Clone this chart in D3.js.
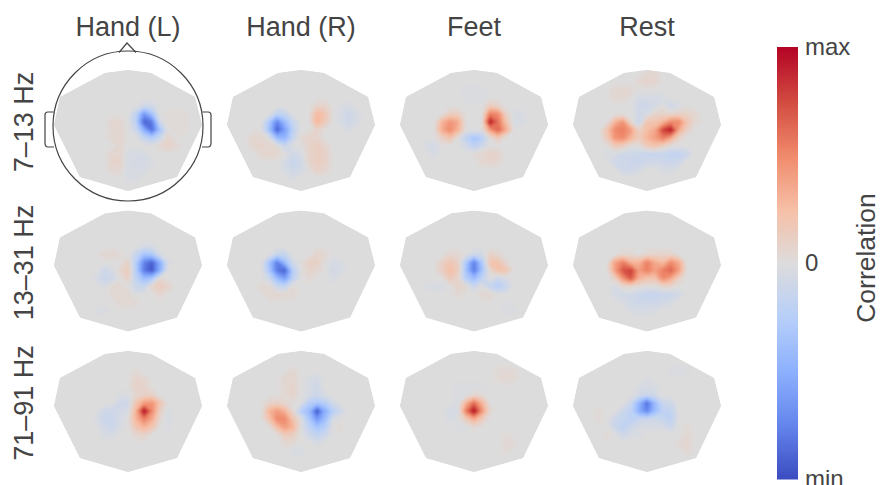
<!DOCTYPE html>
<html>
<head>
<meta charset="utf-8">
<script src="https://d3js.org/d3.v7.min.js"></script>
<style>
html, body { margin: 0; padding: 0; background: #fff; overflow: hidden; }
text { font-family: "Liberation Sans", Arial, sans-serif; fill: #444; }
</style>
</head>
<body>
<div id="chart"></div>
<script>
let conditions = ["Hand (L)", "Hand (R)", "Feet", "Rest"];
let bands = ["7\u201313 Hz", "13\u201331 Hz", "71\u201391 Hz"];
let barLabels = ["min", "0", "max"];
let barValues = [-1, 0, 1];
let coolwarm = ["#3b4cc0", "#6485ec", "#8db0fe", "#b7cff9", "#dddcdc", "#f6bfa6", "#f08a6c", "#d24b40", "#b40426"];

// correlation, [column, row, value] on a 21 x 17 sensor grid, everything else is 0
let handL7 = [[12,5,-.1],[13,5,-.08],[11,6,-.2],[12,6,-.65],[13,6,-.35],[11,7,-.22],[12,7,-.92],[13,7,-.8],[14,7,-.08],[11,8,-.12],[12,8,-.5],[13,8,-.85],[14,8,-.35],[12,9,-.15],[13,9,-.25],[14,9,-.12],
    [8,7,.06],[9,7,.06],[8,8,.05],[9,8,.05],[8,9,.05],[9,9,.07],[9,10,.05],[8,11,.06],[9,11,.06],[8,12,.08],[9,12,.08],[8,13,.05],[9,13,.05],[15,9,.08],[15,10,.08],[14,10,.05],[16,10,.05],
    [10,11,-.05],[11,11,-.05],[12,11,-.05],[10,12,-.05],[11,12,-.06],[12,12,-.06],[13,12,-.04],[10,13,-.05],[11,13,-.05],[12,13,-.05],[10,14,-.04],[11,14,-.04],
    [15,6,.03],[16,6,.03],[17,6,.03],[15,7,.03],[16,7,.03],[17,7,.03],[16,8,.03],[17,8,.03]];
let handR7 = [[7,6,-.2],[8,6,-.15],[6,7,-.3],[7,7,-.75],[8,7,-.4],[9,7,-.15],[6,8,-.35],[7,8,-.92],[8,8,-.6],[9,8,-.2],[7,9,-.4],[8,9,-.45],[9,9,-.15],[8,10,-.12],
    [12,5,.08],[13,5,.08],[12,6,.28],[13,6,.2],[12,7,.3],[13,7,.15],[12,8,.08],[10,9,.05],[11,9,.08],[12,9,.08],[11,10,.08],[12,10,.12],[13,10,.07],[11,11,.08],[12,11,.12],[13,11,.1],[11,12,.08],[12,12,.12],[13,12,.1],[12,13,.1],[13,13,.06],
    [4,9,.08],[5,9,.06],[4,10,.05],[5,10,.08],[6,10,.06],[7,10,.04],[5,11,.05],[6,11,.08],[7,11,.06],
    [9,11,-.08],[10,11,-.05],[8,12,-.06],[9,12,-.15],[10,12,-.1],[8,13,-.05],[9,13,-.1],[10,13,-.06],[9,14,-.05],
    [15,5,-.03],[16,5,-.05],[15,6,-.05],[16,6,-.1],[17,6,-.05],[15,7,-.05],[16,7,-.1],[17,7,-.05],[16,8,-.05]];
let feet7 = [[12,5,.15],[13,5,.08],[12,6,.55],[13,6,.5],[14,6,.1],[7,6,.12],[8,6,.12],[6,7,.3],[7,7,.45],[8,7,.35],[12,7,.95],[13,7,.6],[14,7,.2],[6,8,.35],[7,8,.5],[8,8,.3],[12,8,.4],[13,8,.65],[14,8,.35],
    [6,9,.1],[7,9,.2],[9,9,-.2],[10,9,-.35],[11,9,-.25],[13,9,.15],[9,10,-.08],[10,10,-.2],[11,10,-.1],[10,11,.03],[11,11,.06],[12,11,.1],[13,11,.08],[11,12,.05],[12,12,.07],[13,12,.05],
    [5,10,-.08],[4,10,-.04],[5,11,-.05],[15,6,-.04],[16,6,-.05],[15,7,-.04],[16,7,-.04],[9,3,-.03],[10,3,-.03],[11,3,-.03],[9,4,-.03],[10,4,-.03],[11,4,-.03]];
let rest7 = [[10,1,.05],[11,1,.05],[9,2,.05],[10,2,.08],[11,2,.06],[6,3,.05],[7,3,.06],[8,3,.05],[6,4,.05],[7,4,.05],[9,4,-.06],[10,4,-.06],[11,4,-.06],[12,4,-.05],[9,5,-.1],[10,5,-.1],[11,5,-.06],[13,5,-.1],[14,5,-.04],[9,6,-.08],[10,6,-.06],[11,6,.08],[12,6,.08],[13,6,.06],[14,6,.1],[15,6,.1],[16,6,.05],
    [6,7,.3],[7,7,.45],[8,7,.05],[9,7,-.15],[10,7,.2],[11,7,.2],[12,7,.3],[13,7,.5],[14,7,.5],[15,7,.2],[16,7,.05],
    [5,8,.2],[6,8,.5],[7,8,.55],[8,8,.4],[9,8,.1],[10,8,.25],[11,8,.35],[12,8,.78],[13,8,.95],[14,8,.35],[15,8,.1],[5,9,.15],[6,9,.45],[7,9,.5],[8,9,.3],[9,9,.15],[10,9,.3],[11,9,.4],[12,9,.55],[13,9,.35],[14,9,.08],
    [6,10,.15],[7,10,.12],[10,10,.15],[11,10,.2],[12,10,.1],[5,11,-.04],[6,11,-.05],[7,11,-.1],[8,11,-.1],[9,11,-.12],[10,11,-.15],[11,11,-.15],[12,11,-.15],[13,11,-.18],[14,11,-.18],[15,11,-.12],
    [6,12,-.1],[7,12,-.1],[8,12,-.12],[9,12,-.12],[10,12,-.1],[11,12,-.08],[12,12,-.1],[13,12,-.12],[14,12,-.1],[7,13,-.1],[8,13,-.1],[9,13,-.06],[12,13,-.04],[13,13,-.05]];
let handL13 = [[12,5,-.05],[13,5,-.05],[11,6,-.15],[12,6,-.35],[13,6,-.3],[14,6,-.05],[7,6,.05],[8,6,.06],[9,6,.03],[11,7,-.25],[12,7,-.75],[13,7,-.92],[14,7,-.5],[15,7,-.05],[10,7,.1],[10,8,.15],[9,8,.06],[8,8,-.05],[7,8,-.1],[11,8,-.25],[12,8,-.8],[13,8,-.95],[14,8,-.5],
    [6,9,-.05],[7,9,-.12],[8,9,-.1],[10,9,.12],[11,9,-.2],[12,9,-.4],[13,9,-.3],[14,9,.05],[7,10,-.05],[8,10,.05],[9,10,.05],[11,10,-.12],[12,10,-.15],[13,10,.08],[14,10,.15],[15,10,.08],[8,11,.04],[9,11,.05],[10,11,.05],[11,11,-.03],[14,11,.05],[9,12,.05],[10,12,.05],[11,12,.04],[7,13,-.05],[6,13,-.03]];
let handR13 = [[7,6,-.15],[8,6,-.15],[12,6,.08],[13,6,.05],[6,7,-.35],[7,7,-.78],[8,7,-.4],[9,7,-.08],[11,7,.1],[12,7,.1],[14,7,-.06],[15,7,-.04],[6,8,-.3],[7,8,-.8],[8,8,-.92],[9,8,-.25],[11,8,.08],[12,8,.05],[14,8,-.08],[15,8,-.05],
    [6,9,-.1],[7,9,-.4],[8,9,-.6],[9,9,-.2],[11,9,.04],[14,9,-.05],[5,10,.04],[6,10,.05],[7,10,-.12],[8,10,-.15],[9,10,.03],[6,11,.05],[7,11,.06],[8,11,.05],[9,11,.04]];
let feet13 = [[7,6,.06],[8,6,.05],[10,6,-.1],[11,6,-.08],[12,6,.1],[13,6,.05],[6,7,.1],[7,7,.2],[8,7,.1],[9,7,-.3],[10,7,-.78],[11,7,-.3],[12,7,.2],[13,7,.22],[14,7,.05],[6,8,.12],[7,8,.25],[8,8,.15],[9,8,-.35],[10,8,-.8],[11,8,-.35],[12,8,.05],[13,8,.22],[14,8,.2],
    [7,9,.15],[8,9,.08],[9,9,-.25],[10,9,-.4],[11,9,-.2],[13,9,-.12],[14,9,-.05],[4,10,-.03],[5,10,-.05],[6,10,-.05],[8,10,.08],[9,10,.05],[10,10,-.12],[12,10,-.15],[13,10,-.25],[14,10,-.15],[8,11,.04],[11,11,.05],[12,11,.06],[14,13,-.03],[15,13,-.04],[14,12,-.03]];
let rest13 = [[7,6,.05],[8,6,.05],[10,6,.06],[11,6,.08],[12,6,.08],[13,6,.08],[6,7,.4],[7,7,.55],[8,7,.3],[9,7,.3],[10,7,.55],[11,7,.35],[12,7,.25],[13,7,.5],[14,7,.35],[6,8,.4],[7,8,.72],[8,8,.8],[9,8,.4],[10,8,.55],[11,8,.4],[12,8,.55],[13,8,.65],[14,8,.4],
    [6,9,.1],[7,9,.45],[8,9,.7],[9,9,.3],[10,9,.2],[11,9,.2],[12,9,.5],[13,9,.35],[14,9,.1],[6,10,-.05],[7,10,.05],[8,10,.05],[9,10,.02],[12,10,.05],[13,10,.06],
    [6,11,-.06],[7,11,-.08],[8,11,-.08],[9,11,-.12],[10,11,-.15],[11,11,-.15],[12,11,-.12],[13,11,-.12],[14,11,-.08],[7,12,-.04],[8,12,-.08],[9,12,-.1],[10,12,-.1],[11,12,-.1],[12,12,-.08],[13,12,-.05],[8,13,-.05],[9,13,-.05],[10,13,-.05],[11,13,-.04]];
let handL71 = [[11,3,.03],[11,4,.08],[12,4,.06],[11,5,.1],[12,5,.08],[11,6,.06],[12,6,.1],[13,6,.1],[9,6,-.03],[10,6,-.03],[9,7,-.1],[10,7,-.1],[11,7,.2],[12,7,.4],[13,7,.45],[14,7,.2],[7,8,-.1],[8,8,-.1],[9,8,-.07],[10,8,-.05],[11,8,.3],[12,8,1],[13,8,.5],[14,8,.1],[15,8,-.04],
    [6,9,-.04],[7,9,-.12],[8,9,-.12],[9,9,-.05],[11,9,.3],[12,9,.55],[13,9,.35],[14,9,.05],[15,9,-.04],[7,10,-.08],[8,10,-.12],[9,10,-.04],[11,10,.2],[12,10,.3],[13,10,.2],[15,10,-.03],[7,11,-.04],[8,11,-.06],[11,11,.05],[12,11,.08]];
let handR71 = [[9,3,.05],[8,4,.06],[9,4,.06],[12,4,-.08],[11,4,-.04],[8,5,.05],[9,5,.08],[11,5,-.05],[12,5,-.1],[9,6,.08],[8,6,.04],[11,6,-.05],[12,6,-.1],[13,6,-.04],[6,7,.08],[7,7,.1],[8,7,.06],[11,7,-.25],[12,7,-.3],[13,7,-.25],[14,7,-.08],[6,8,.3],[7,8,.42],[8,8,.3],[9,8,.05],[10,8,-.25],[11,8,-.4],[12,8,-.98],[13,8,-.5],[14,8,-.25],[15,8,-.1],
    [6,9,.2],[7,9,.5],[8,9,.5],[9,9,.2],[11,9,-.3],[12,9,-.65],[13,9,-.4],[14,9,-.05],[7,10,.25],[8,10,.42],[9,10,.3],[11,10,-.2],[12,10,-.35],[13,10,-.25],[15,10,.04],[8,11,.15],[9,11,.12],[11,11,-.1],[12,11,-.18],[13,11,-.12],[8,12,.04],[9,12,.04],[12,12,-.05],[9,13,-.05],[10,13,-.05]];
let feet71 = [[13,3,.03],[14,3,.04],[15,3,.03],[13,4,.03],[14,4,.05],[15,4,.03],[8,5,-.03],[9,5,-.03],[10,5,-.03],[11,5,-.03],[8,6,-.03],[9,6,-.03],[10,6,.05],[11,6,.03],[8,7,-.03],[9,7,.3],[10,7,.62],[11,7,.3],[7,8,-.06],[8,8,-.05],[9,8,.55],[10,8,1],[11,8,.45],[12,8,.05],[7,9,-.05],[9,9,.15],[10,9,.35],[11,9,.15],[8,10,-.03],[9,10,-.03],[10,10,.04],[14,11,.03],[14,12,.04],[15,12,.03],[14,13,.03]];
let rest71 = [[14,3,-.05],[13,3,-.03],[15,3,-.03],[10,4,-.03],[9,5,-.04],[10,5,-.05],[11,5,-.04],[9,6,-.08],[10,6,-.12],[11,6,-.08],[8,7,-.12],[9,7,-.45],[10,7,-.85],[11,7,-.4],[12,7,-.12],[13,7,-.1],[7,8,-.12],[8,8,-.2],[9,8,-.5],[10,8,-.75],[11,8,-.4],[12,8,-.2],[13,8,-.18],
    [6,9,-.12],[7,9,-.15],[8,9,-.22],[9,9,-.15],[10,9,-.1],[11,9,-.1],[12,9,-.15],[13,9,-.2],[6,10,-.12],[7,10,-.2],[8,10,-.1],[9,10,-.05],[10,10,-.04],[11,10,-.04],[12,10,-.05],[13,10,-.12],[7,11,-.1],[8,11,-.05],[9,11,-.03],[15,10,.03],[15,11,.05],[14,12,.03],[15,12,.07],[15,13,.05],[4,8,.03],[4,9,.03],[5,11,.03]];

let panels = [
    [handL7, handR7, feet7, rest7],
    [handL13, handR13, feet13, rest13],
    [handL71, handR71, feet71, rest71]
];

// outline of the interpolated area, same for every panel (px from panel centre / top)
let outline = [[0,0],[23,3],[67,27],[74,55],[49,107],[0,121],[-48,107],[-74,55],[-68,27],[-23,3]];

let width = 881, height = 485;
let nx = 21, ny = 17;

let svg = d3.select("#chart").append("svg")
    .attr("width", width)
    .attr("height", height);

let xPanel = d3.scalePoint().domain(conditions).range([128, 647]);
let yPanel = d3.scalePoint().domain(bands).range([70, 351]);

let color = d3.scaleLinear()
    .domain(d3.range(coolwarm.length).map(function (i) { return -1 + i * 0.25; }))
    .range(coolwarm);

let defs = svg.append("defs");
defs.append("filter").attr("id", "soft")
    .attr("x", "-5%").attr("y", "-5%").attr("width", "110%").attr("height", "110%")
    .append("feGaussianBlur").attr("stdDeviation", 1.1);
defs.append("clipPath").attr("id", "scalp")
    .append("polygon")
    .attr("points", outline.map(function (d) { return d.join(","); }).join(" "));

let step = 0.02;
let levels = d3.range(-1.01, 1.02, step);
let contours = d3.contours().size([nx, ny]).thresholds(levels);

// contour coords put grid node i at i + 0.5
let xGrid = d3.scaleLinear().domain([0.5, nx - 0.5]).range([-80, 80]);
let yGrid = d3.scaleLinear().domain([0.5, ny - 0.5]).range([-4, 124]);
let path = d3.geoPath(d3.geoTransform({
    point: function (x, y) {
        this.stream.point(xGrid(x), yGrid(y));
    }
}));

bands.forEach(function (band, r) {
    conditions.forEach(function (cond, c) {
        let grid = new Array(nx * ny).fill(0);
        panels[r][c].forEach(function (d) {
            grid[d[1] * nx + d[0]] = d[2];
        });

        let g = svg.append("g")
            .attr("transform", "translate(" + xPanel(cond) + "," + yPanel(band) + ")")
            .attr("clip-path", "url(#scalp)");

        g.append("polygon")
            .attr("points", outline.map(function (d) { return d.join(","); }).join(" "))
            .attr("fill", color(0));

        g.append("g")
            .attr("filter", "url(#soft)")
            .selectAll("path")
            .data(contours(grid).filter(function (d) { return d.coordinates.length > 0; }))
            .enter().append("path")
            .attr("d", path)
            .attr("fill", function (d) { return color(Math.min(1, Math.max(-1, d.value + step / 2))); });
    });
});

// head drawing on the first panel only
let head = svg.append("g")
    .attr("transform", "translate(" + xPanel(conditions[0]) + ",126)")
    .attr("fill", "none")
    .attr("stroke", "#444")
    .attr("stroke-width", 1.2);
head.append("circle").attr("r", 75);
head.append("path").attr("d", "M-9,-73.5L-1,-83L8,-73.5");
head.append("path").attr("d", "M-74.5,-14H-80Q-83,-14 -83,-11V17Q-83,21 -80,21H-74");
head.append("path").attr("d", "M74.5,-14H80Q83,-14 83,-11V17Q83,21 80,21H74");

svg.selectAll(".col-title")
    .data(conditions)
    .enter().append("text")
    .attr("class", "col-title")
    .attr("x", function (d) { return xPanel(d); })
    .attr("y", 36)
    .attr("text-anchor", "middle")
    .style("font-size", "27px")
    .text(function (d) { return d; });

svg.selectAll(".row-title")
    .data(bands)
    .enter().append("text")
    .attr("class", "row-title")
    .attr("transform", function (d) { return "translate(33," + (yPanel(d) + 52) + ") rotate(-90)"; })
    .attr("text-anchor", "middle")
    .style("font-size", "27px")
    .text(function (d) { return d; });

// colorbar
let yBar = d3.scaleLinear().domain([-1, 1]).range([479, 47]);
let barSteps = d3.range(479, 47, -2);

svg.append("g")
    .selectAll("rect")
    .data(barSteps)
    .enter().append("rect")
    .attr("x", 777)
    .attr("y", function (d) { return d - 2; })
    .attr("width", 21)
    .attr("height", 2.5)
    .attr("fill", function (d) { return color(yBar.invert(d - 1)); });

let barAxis = d3.axisRight(yBar)
    .tickValues(barValues)
    .tickSize(0)
    .tickPadding(7)
    .tickFormat(function (d, i) { return barLabels[i]; });

let barG = svg.append("g")
    .attr("transform", "translate(798,0)")
    .call(barAxis);
barG.select(".domain").remove();
barG.selectAll("text")
    .style("font-family", '"Liberation Sans", Arial, sans-serif')
    .style("font-size", "24px")
    .attr("fill", "#444");

svg.append("text")
    .attr("transform", "translate(875,258) rotate(-90)")
    .attr("text-anchor", "middle")
    .style("font-size", "26.5px")
    .text("Correlation");
</script>
</body>
</html>
